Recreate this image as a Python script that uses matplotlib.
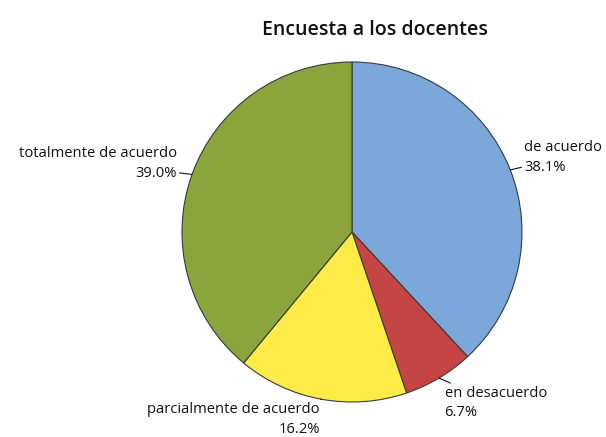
import numpy as np
import matplotlib.pyplot as plt

plt.rcParams['font.family'] = ['Open Sans', 'DejaVu Sans']

categorias = ["de acuerdo", "en desacuerdo", "parcialmente de acuerdo", "totalmente de acuerdo"]
porcentajes = [38.1, 6.7, 16.2, 39.0]
colores = ["#7BA7DA", "#C54545", "#FEEB48", "#8BA43B"]

fig = plt.figure(figsize=(6.06, 4.37), dpi=100)
ax = fig.add_axes([182/606, 35/437, 340/606, 340/437])

wedges, _ = ax.pie(porcentajes, colors=colores, startangle=90, counterclock=False,
                   radius=1, wedgeprops=dict(edgecolor="#3a3a3a", linewidth=0.8))
ax.set_xlim(-1, 1)
ax.set_ylim(-1, 1)
ax.set_aspect("equal")

# desplazamientos de las etiquetas (puntos) y alineacion
offs = [(10, 9, "left"), (4, -18, "left"), (-1, -14.5, "right"), (-11, 8, "right")]
for w, cat, p, (dx, dy, ha) in zip(wedges, categorias, porcentajes, offs):
    ang = np.deg2rad((w.theta1 + w.theta2) / 2)
    x, y = np.cos(ang), np.sin(ang)
    ax.annotate(f"{cat}\n{p:.1f}%", xy=(x, y), xytext=(dx, dy), textcoords="offset points",
                ha=ha, va="center", fontsize=10.6, color="#111111",
                linespacing=1.4,
                arrowprops=dict(arrowstyle="-", color="#111111", lw=0.8, shrinkA=0, shrinkB=0),
                annotation_clip=False)

fig.text(375/606, 1 - 30/437, "Encuesta a los docentes", ha="center", va="center",
         fontsize=14, fontweight="semibold", color="#111111")

fig.savefig("out.png", dpi=100)
